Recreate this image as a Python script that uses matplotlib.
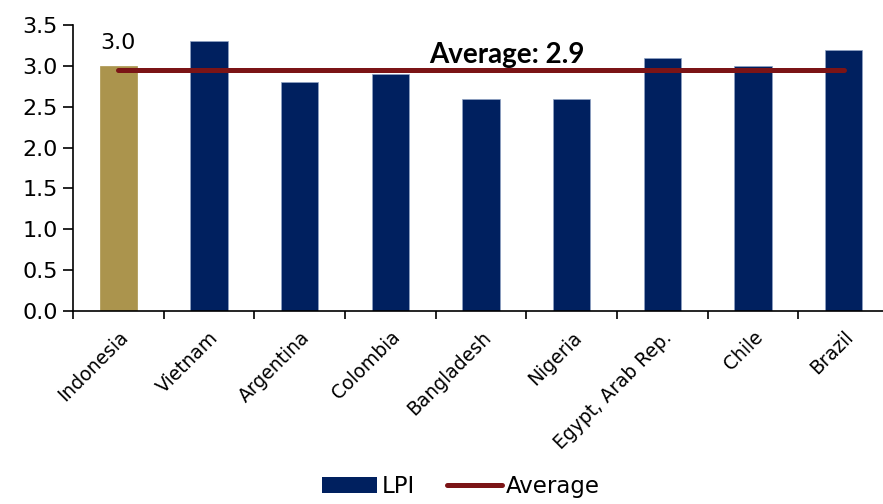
import numpy as np
import matplotlib.pyplot as plt
from matplotlib.lines import Line2D
from matplotlib.patches import Patch

countries = ['Indonesia', 'Vietnam', 'Argentina', 'Colombia', 'Bangladesh',
             'Nigeria', 'Egypt, Arab Rep.', 'Chile', 'Brazil']
lpi = [3.0, 3.3, 2.8, 2.9, 2.6, 2.6, 3.1, 3.0, 3.2]
yticks = [0.0, 0.5, 1.0, 1.5, 2.0, 2.5, 3.0, 3.5]

navy = '#00205F'
gold = '#AB944D'
maroon = '#7B1416'

avg = np.mean(lpi)
x = np.arange(len(countries))

fig = plt.figure(figsize=(8.83, 5.04), dpi=100)
ax = fig.add_axes([73 / 883, 193 / 504, 816 / 883, 286 / 504])

colors = [gold] + [navy] * (len(lpi) - 1)
edges = [gold] + ['#8FA3C4'] * (len(lpi) - 1)
ax.bar(x, lpi, width=0.41, color=colors, edgecolor=edges, linewidth=0.5, zorder=2)
ax.plot([x[0], x[-1]], [avg, avg], color=maroon, lw=3.6,
        solid_capstyle='round', zorder=3)

ax.text(x[0], lpi[0] + 0.16, f'{lpi[0]:.1f}', ha='center', va='bottom', fontsize=16)
ax.text(4.28, 3.03, f'Average: {avg:.1f}', ha='center', va='baseline',
        fontsize=20, fontweight='bold', family='Lato')

ax.set_xlim(-0.5, len(countries) - 0.5)
ax.set_ylim(0, 3.5)
ax.set_yticks(yticks)
ax.set_yticklabels([f'{v:.1f}' for v in yticks], fontsize=16)
ax.tick_params(axis='y', length=7, width=1.2, direction='out', pad=4)

ax.set_xticks(x)
ax.set_xticklabels(countries, rotation=45, ha='right', rotation_mode='anchor',
                   fontsize=13.5)
ax.tick_params(axis='x', which='major', length=0, pad=12)
ax.set_xticks(np.arange(len(countries)) - 0.5, minor=True)
ax.tick_params(axis='x', which='minor', length=6, width=1.2, direction='out')

for side in ['top', 'right']:
    ax.spines[side].set_visible(False)
ax.spines['left'].set_linewidth(1.2)
ax.spines['bottom'].set_linewidth(1.2)

handles = [Patch(facecolor=navy, edgecolor='none'),
           Line2D([0], [0], color=maroon, lw=3.6, solid_capstyle='round')]
fig.legend(handles, ['LPI', 'Average'], loc='lower center',
           bbox_to_anchor=(0.522, -0.03), ncol=2, frameon=False, fontsize=16.5,
           handlelength=2.4, handletextpad=0.2, columnspacing=1.4)

fig.savefig('out.png', dpi=100)
